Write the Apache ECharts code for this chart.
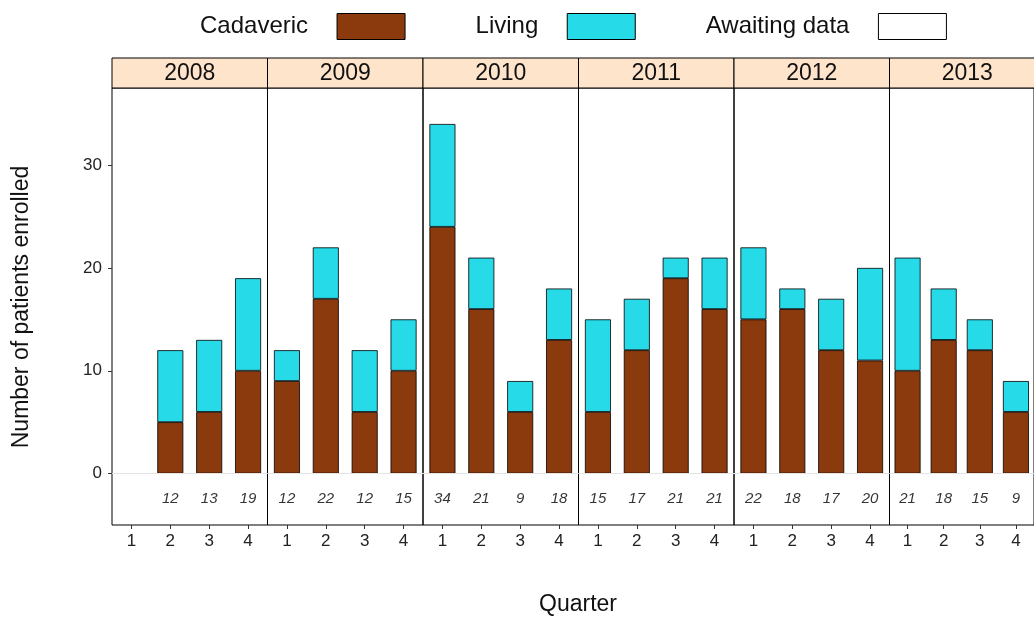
<!DOCTYPE html>
<html>
<head>
<meta charset="utf-8">
<script src="https://cdn.jsdelivr.net/npm/echarts@6/dist/echarts.min.js"></script>
<style>body{margin:0}#main{width:1034px;height:619px}</style>
</head>
<body>
<div id="main"></div>
<script>
var years = ['2008', '2009', '2010', '2011', '2012', '2013'];
var quarters = ['1', '2', '3', '4'];
var cadaveric = [
    [null, 5, 6, 10], [9, 17, 6, 10], [24, 16, 6, 13],
    [6, 12, 19, 16], [15, 16, 12, 11], [10, 13, 12, 6]
];
var living = [
    [null, 7, 7, 9], [3, 5, 6, 5], [10, 5, 3, 5],
    [9, 5, 2, 5], [7, 2, 5, 9], [11, 5, 3, 3]
];

var chart = echarts.init(document.getElementById('main'));
var left0 = 112, pw = 155.5, gridTop = 88, gridH = 437;
var grids = [], xAxes = [], yAxes = [], series = [], graphics = [];
var font = 'Liberation Sans, Arial, sans-serif';

years.forEach(function (y, k) {
    var gl = left0 + k * pw;
    grids.push({left: gl, top: gridTop, width: pw, height: gridH, show: true,
        borderColor: '#000', borderWidth: 1, backgroundColor: 'transparent'});
    xAxes.push({type: 'category', gridIndex: k, data: quarters,
        axisLine: {show: false, onZero: false},
        axisTick: {show: true, alignWithLabel: true, length: 4, lineStyle: {color: '#333'}},
        axisLabel: {color: '#222', fontSize: 17, fontFamily: font, margin: 8}});
    yAxes.push({type: 'value', gridIndex: k, min: -5, max: 37.5, interval: 5,
        splitLine: {show: false}, axisLine: {show: false},
        axisTick: {show: k === 0, length: 4, lineStyle: {color: '#333'},
            customValues: [0, 10, 20, 30]},
        axisLabel: {show: k === 0, fontSize: 17, color: '#222', fontFamily: font, margin: 10,
            customValues: [0, 10, 20, 30]}});
    var labels = [];
    quarters.forEach(function (q, i) {
        if (cadaveric[k][i] != null) labels.push([q, -2.5, cadaveric[k][i] + living[k][i]]);
    });
    series.push({name: 'Cadaveric', type: 'bar', stack: 's' + k, xAxisIndex: k, yAxisIndex: k,
        data: cadaveric[k], barWidth: 26,
        itemStyle: {color: '#8B3A0E', borderColor: '#000', borderWidth: 0.8},
        markLine: {silent: true, symbol: 'none', label: {show: false},
            lineStyle: {color: '#e4e4e4', type: 'solid', width: 1}, data: [{yAxis: 0}]}});
    series.push({name: 'Living', type: 'bar', stack: 's' + k, xAxisIndex: k, yAxisIndex: k,
        data: living[k], barWidth: 26,
        itemStyle: {color: '#26DAE8', borderColor: '#000', borderWidth: 0.8}});
    series.push({name: 'Awaiting data', type: 'bar', stack: 's' + k, xAxisIndex: k, yAxisIndex: k,
        data: [], barWidth: 26,
        itemStyle: {color: '#fff', borderColor: '#000', borderWidth: 0.8}});
    series.push({type: 'scatter', xAxisIndex: k, yAxisIndex: k, symbolSize: 0, silent: true,
        data: labels,
        label: {show: true, position: 'inside', fontSize: 15, fontStyle: 'italic', color: '#000',
            fontFamily: font, formatter: function (p) { return p.value[2]; }}});
    graphics.push({type: 'rect', shape: {x: gl, y: 58, width: pw, height: 30},
        style: {fill: '#FFE4CC', stroke: '#000', lineWidth: 1}});
    graphics.push({type: 'text', x: gl + pw / 2, y: 74,
        style: {text: y, font: '23px ' + font, fill: '#111',
            textAlign: 'center', textVerticalAlign: 'middle'}});
});

graphics.push({type: 'text', x: 22, y: 307, rotation: Math.PI / 2,
    style: {text: 'Number of patients enrolled', font: '23px ' + font, fill: '#111',
        textAlign: 'center', textVerticalAlign: 'middle'}});
graphics.push({type: 'text', x: 578, y: 605,
    style: {text: 'Quarter', font: '23px ' + font, fill: '#111',
        textAlign: 'center', textVerticalAlign: 'middle'}});

chart.setOption({
    animation: false,
    legend: {top: 8, left: 195, align: 'right', itemWidth: 68, itemHeight: 26, itemGap: 70,
        icon: 'rect', data: ['Cadaveric', 'Living', 'Awaiting data'],
        itemStyle: {borderWidth: 1, borderColor: '#000'},
        textStyle: {fontSize: 24, color: '#111', fontFamily: font, padding: [0, 24, 0, 0]}},
    grid: grids, xAxis: xAxes, yAxis: yAxes, series: series, graphic: graphics
});
</script>
</body>
</html>
